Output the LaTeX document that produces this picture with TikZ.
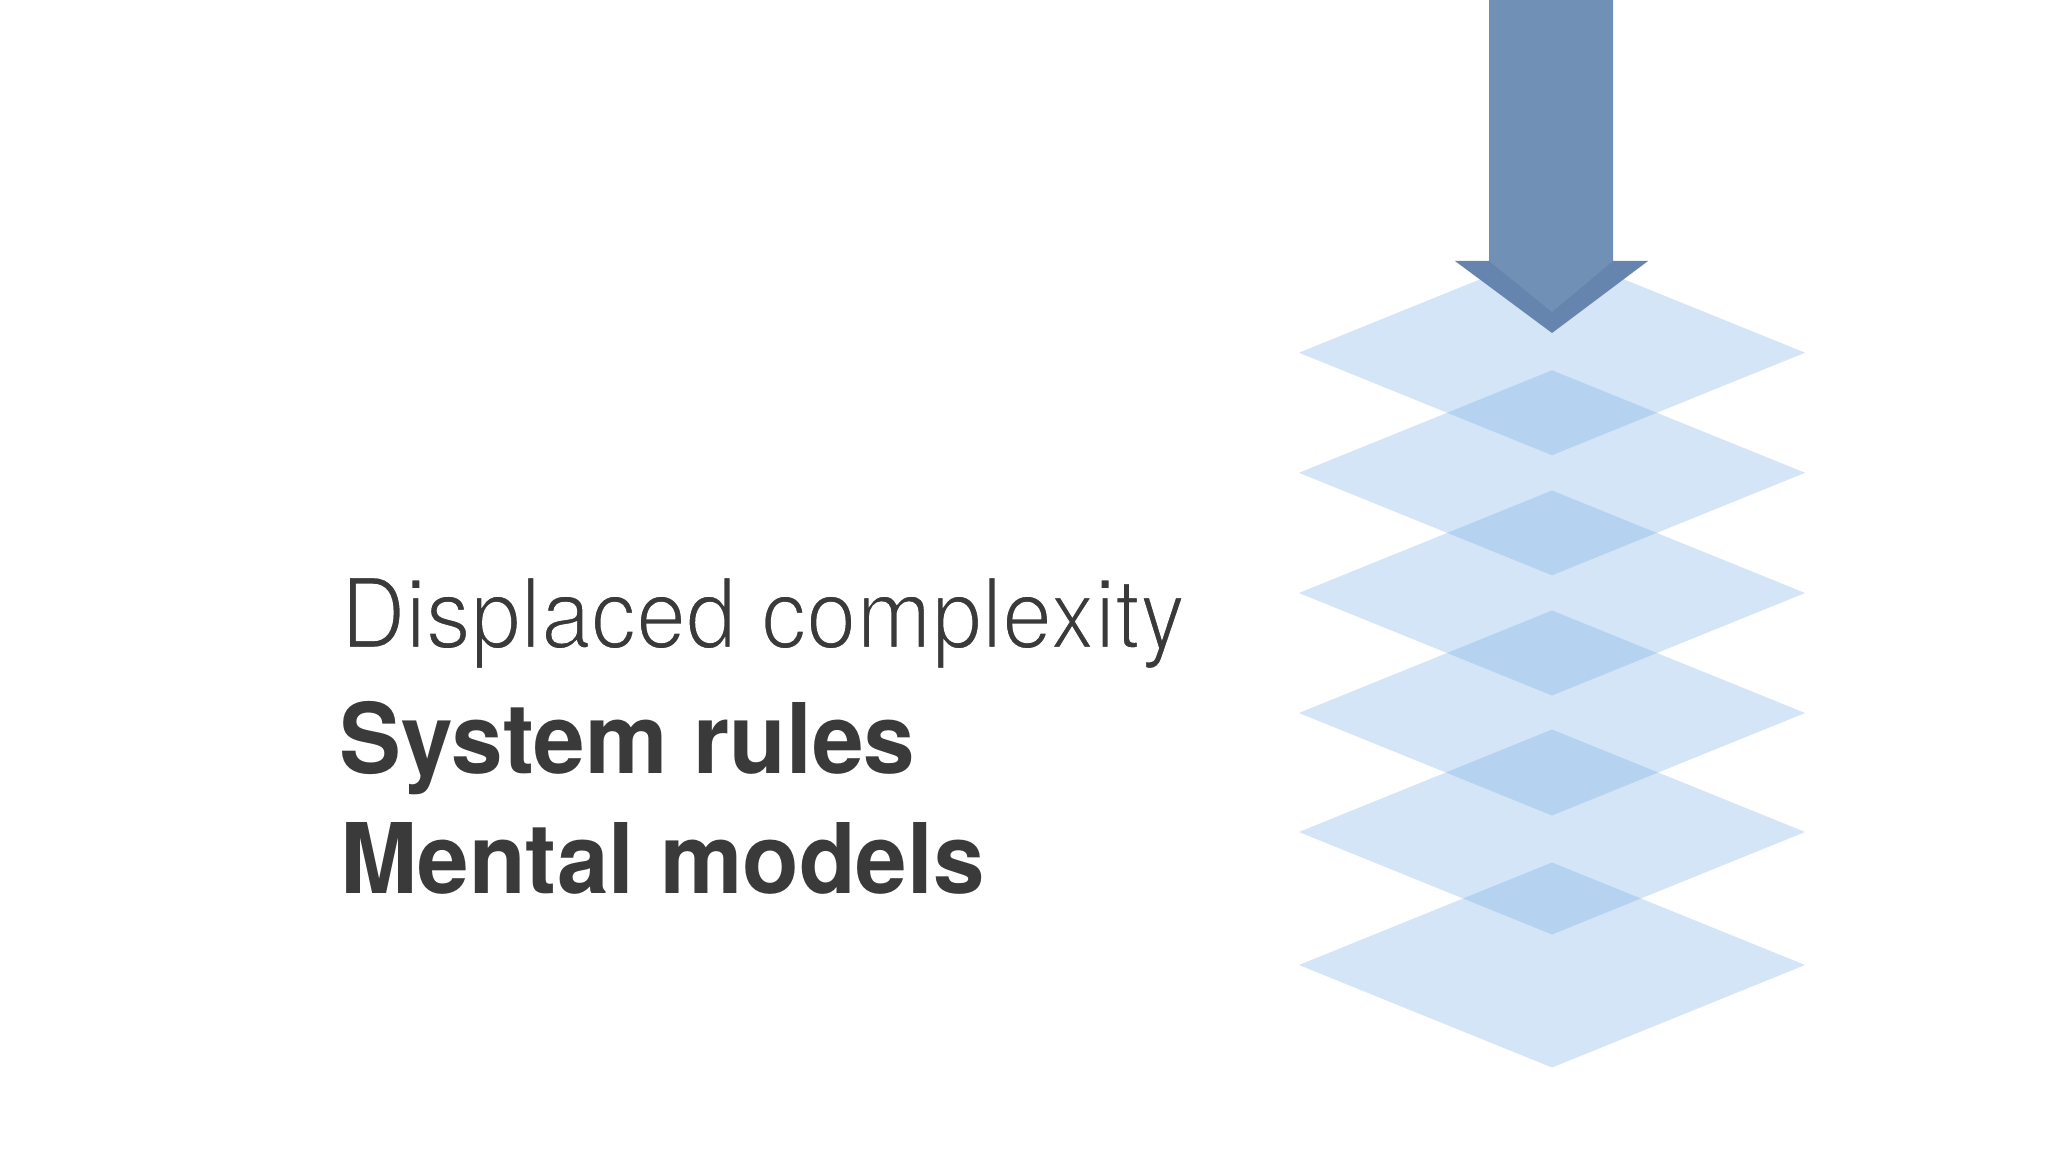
\documentclass[tikz,border=0pt]{standalone}
\usepackage{fontspec}
\usepackage{graphicx}
\setmainfont{TeX Gyre Heros}
\definecolor{txt}{RGB}{58,58,58}
\definecolor{layer}{RGB}{120,175,230}
\definecolor{shaft}{RGB}{113,144,182}
\definecolor{head}{RGB}{101,133,174}
\newcommand{\thinner}[1]{\special{pdf:literal direct q 2 Tr 0.7 w 1 1 1 RG}#1\special{pdf:literal direct Q}}
\tikzset{
  label text/.style={anchor=base west, inner sep=0pt, text=txt, font=\fontsize{27.7}{33}\selectfont},
  layer/.style={fill=layer, fill opacity=0.32, draw=none},
}
\begin{document}
\begin{tikzpicture}[x=0.01cm, y=-0.01cm]
\useasboundingbox (0,0) rectangle (2048,1152);
\fill[white] (0,0) rectangle (2048,1152);

% stacked layers
\foreach \cy in {352.7, 472.8, 593, 713, 832, 965}{
  \path[layer] (1552-253,\cy) -- (1552,\cy-102.5) -- (1552+253,\cy) -- (1552,\cy+102.5) -- cycle;
}

% arrow
\coordinate (hl) at (1455,261);
\coordinate (hr) at (1648,261);
\coordinate (tip) at (1552,333);
\fill[head] (hl) -- (hr) -- (tip) -- cycle;
\fill[shaft] (1489,0) -- (1613,0) -- (1613,261) -- (1552,312) -- (1489,261) -- cycle;

% text
\node[label text] (t1) at (340,648) {\thinner{\scalebox{0.925}[1]{Displaced complexity}}};
\node[label text] (t2) at (339,773) {\scalebox{0.952}[1]{\bfseries System rules}};
\node[label text] (t3) at (340,893) {\scalebox{0.951}[1]{\bfseries Mental models}};
\end{tikzpicture}
\end{document}
